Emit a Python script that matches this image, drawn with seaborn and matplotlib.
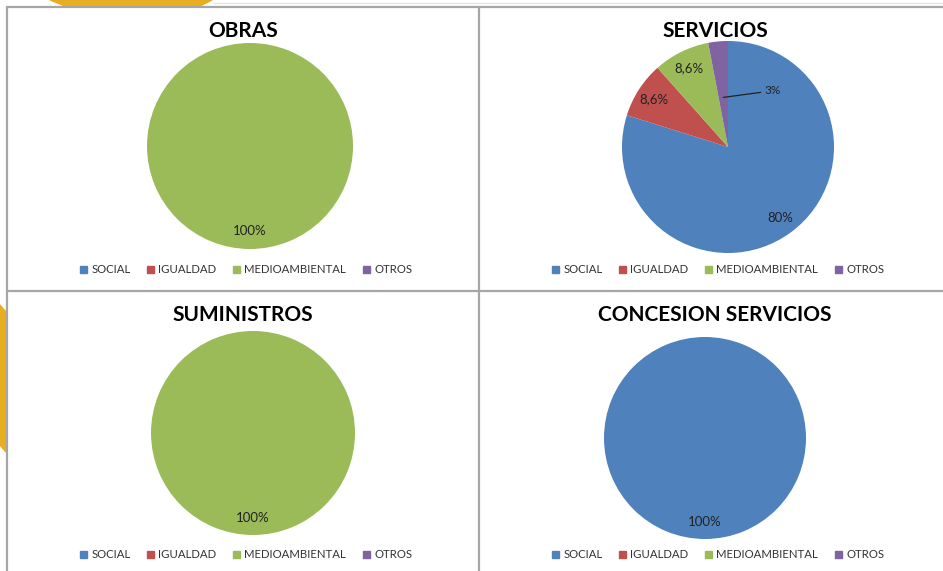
import numpy as np
import matplotlib
matplotlib.use("Agg")
import matplotlib.pyplot as plt
import matplotlib.patches as mpatches
from matplotlib.lines import Line2D
import seaborn as sns

### DATA ###
categories = ["SOCIAL", "IGUALDAD", "MEDIOAMBIENTAL", "OTROS"]
obras = [0, 0, 100, 0]
servicios = [80, 8.6, 8.6, 3]
suministros = [0, 0, 100, 0]
concesion = [100, 0, 0, 0]
titles = ["OBRAS", "SERVICIOS", "SUMINISTROS", "CONCESION SERVICIOS"]

colors = ["#4F81BD", "#C0504D", "#9BBB59", "#8064A2"]

sns.set_theme(style="white")
plt.rcParams['font.family'] = ['Lato', 'DejaVu Sans']

W, H = 943, 571
fig = plt.figure(figsize=(W / 100, H / 100), dpi=100)
fig.patch.set_facecolor("white")


def fx(x):
    return x / W


def fy(y):
    return 1 - y / H


def fmt(v):
    return f"{v:g}".replace(".", ",") + "%"


def draw_pie(cx, cy, r, values, title, title_xy, legend_xy):
    """Draw one panel: pie centred at pixel (cx, cy) with pixel radius r"""
    ax = fig.add_axes([fx(cx - r), fy(cy + r), 2 * r / W, 2 * r / H])
    vals = [v for v in values if v > 0]
    cols = [c for v, c in zip(values, colors) if v > 0]
    wedges, _ = ax.pie(vals, colors=cols, startangle=90, counterclock=False,
                       radius=1, wedgeprops=dict(linewidth=0))
    total = sum(vals)
    for w, v in zip(wedges, vals):
        ang = np.deg2rad((w.theta1 + w.theta2) / 2)
        x, y = np.cos(ang), np.sin(ang)
        if v / total < 0.05:
            # small slice, label outside with a leader line
            ax.annotate(fmt(v), xy=(0.47 * x, 0.47 * y), xytext=(0.34, 0.53),
                        ha='left', va='center', fontsize=8.5, color='#222222',
                        arrowprops=dict(arrowstyle='-', color='#222222', lw=0.9,
                                        shrinkA=0, shrinkB=0))
        else:
            ax.text(0.83 * x, 0.83 * y, fmt(v), ha='center', va='center',
                    fontsize=9.5, color='#222222')
    ax.set_xlim(-1, 1)
    ax.set_ylim(-1, 1)
    ax.set_aspect('equal')
    ax.axis('off')
    # TITLE
    fig.text(fx(title_xy[0]), fy(title_xy[1]), title, ha='center', va='center',
             fontsize=15, fontweight='bold', color='black')
    # LEGEND
    handles = [mpatches.Patch(color=c, label=l) for c, l in zip(colors, categories)]
    fig.legend(handles=handles, loc='center', ncol=4, frameon=False,
               bbox_to_anchor=(fx(legend_xy[0]), fy(legend_xy[1])),
               fontsize=8.2, handlelength=0.65, handleheight=0.65,
               handletextpad=0.35, columnspacing=1.45, borderaxespad=0,
               labelcolor='#333333')


draw_pie(250, 146, 103, obras, titles[0], (243, 31), (246, 270))
draw_pie(728, 147, 106, servicios, titles[1], (715, 31), (718, 270))
draw_pie(253, 433, 102, suministros, titles[2], (243, 315), (246, 555))
draw_pie(705, 438, 101, concesion, titles[3], (715, 315), (718, 555))

# PAGE DECORATION (orange shapes behind the panels)
fig.add_artist(mpatches.Polygon([(fx(50), fy(0)), (fx(212), fy(0)), (fx(200), fy(6)),
                                 (fx(65), fy(6))], closed=True, color='#E8AE22',
                                transform=fig.transFigure, zorder=0))
fig.add_artist(mpatches.Polygon([(fx(0), fy(305)), (fx(6), fy(312)), (fx(6), fy(452)),
                                 (fx(0), fy(445))], closed=True, color='#E8AE22',
                                transform=fig.transFigure, zorder=0))
fig.add_artist(Line2D([fx(214), fx(943)], [fy(3), fy(3)], color='#E4E4E4', lw=1,
                      transform=fig.transFigure))

# PANEL BORDERS
border = dict(color='#A6A6A6', lw=1.6, transform=fig.transFigure)
fig.add_artist(Line2D([fx(7), fx(943)], [fy(7), fy(7)], **border))
fig.add_artist(Line2D([fx(7), fx(7)], [fy(7), fy(571)], **border))
fig.add_artist(Line2D([fx(479), fx(479)], [fy(7), fy(571)], **border))
fig.add_artist(Line2D([fx(7), fx(943)], [fy(291), fy(291)], **border))

plt.savefig("out.png", dpi=100)
